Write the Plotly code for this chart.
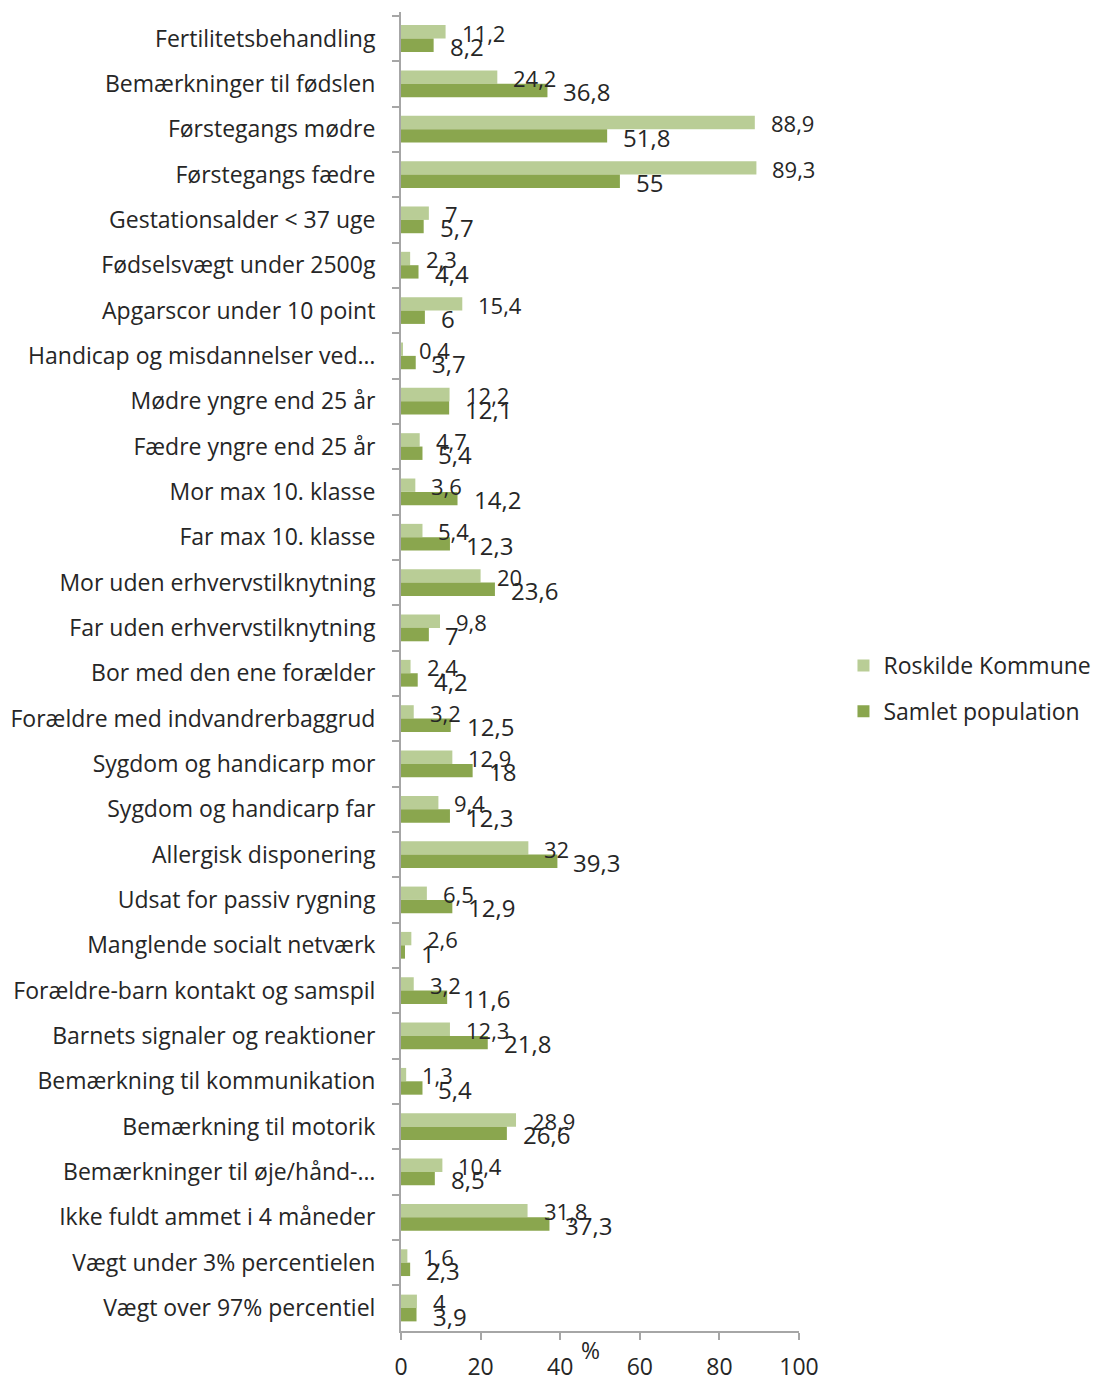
import plotly.graph_objects as go

categories = [
    "Fertilitetsbehandling",
    "Bemærkninger til fødslen",
    "Førstegangs mødre",
    "Førstegangs fædre",
    "Gestationsalder < 37 uge",
    "Fødselsvægt under 2500g",
    "Apgarscor under 10 point",
    "Handicap og misdannelser ved…",
    "Mødre yngre end 25 år",
    "Fædre yngre end 25 år",
    "Mor max 10. klasse",
    "Far max 10. klasse",
    "Mor uden erhvervstilknytning",
    "Far uden erhvervstilknytning",
    "Bor med den ene forælder",
    "Forældre med indvandrerbaggrud",
    "Sygdom og handicarp mor",
    "Sygdom og handicarp far",
    "Allergisk disponering",
    "Udsat for passiv rygning",
    "Manglende socialt netværk",
    "Forældre-barn kontakt og samspil",
    "Barnets signaler og reaktioner",
    "Bemærkning til kommunikation",
    "Bemærkning til motorik",
    "Bemærkninger til øje/hånd-…",
    "Ikke fuldt ammet i 4 måneder",
    "Vægt under 3% percentielen",
    "Vægt over 97% percentiel",
]

roskilde = [11.2, 24.2, 88.9, 89.3, 7, 2.3, 15.4, 0.4, 12.2, 4.7, 3.6, 5.4, 20, 9.8,
            2.4, 3.2, 12.9, 9.4, 32, 6.5, 2.6, 3.2, 12.3, 1.3, 28.9, 10.4, 31.8, 1.6, 4]
samlet = [8.2, 36.8, 51.8, 55, 5.7, 4.4, 6, 3.7, 12.1, 5.4, 14.2, 12.3, 23.6, 7,
          4.2, 12.5, 18, 12.3, 39.3, 12.9, 1, 11.6, 21.8, 5.4, 26.6, 8.5, 37.3, 2.3, 3.9]

x_ticks = [0, 20, 40, 60, 80, 100]

FONT = "Open Sans"
TEXT = "#262626"
AXIS = "#A6A6A6"
LIGHT = "#B9CD96"
DARK = "#8AA64E"


def fmt(v):
    return f"{v:g}".replace(".", ",")


fig = go.Figure()
fig.add_trace(go.Bar(
    y=categories, x=roskilde, orientation="h", name="Roskilde Kommune",
    marker=dict(color=LIGHT, line=dict(width=0)), legendgroup="a",
))
fig.add_trace(go.Bar(
    y=categories, x=samlet, orientation="h", name="Samlet population",
    marker=dict(color=DARK, line=dict(width=0)), legendgroup="b",
))

# value labels just past the end of each bar
annotations = []
for cat, v in zip(categories, roskilde):
    annotations.append(dict(
        x=v, y=cat, xref="x", yref="y", text=fmt(v), showarrow=False,
        xanchor="left", yanchor="middle", xshift=14, yshift=6,
        font=dict(family=FONT, size=22, color=TEXT),
    ))
for cat, v in zip(categories, samlet):
    annotations.append(dict(
        x=v, y=cat, xref="x", yref="y", text=fmt(v), showarrow=False,
        xanchor="left", yanchor="middle", xshift=14, yshift=-8,
        font=dict(family=FONT, size=24, color=TEXT),
    ))
annotations.append(dict(
    x=47.5, y=0, xref="x", yref="paper", text="%", showarrow=False,
    xanchor="center", yanchor="middle", yshift=-19,
    font=dict(family=FONT, size=23, color=TEXT),
))

fig.update_layout(
    width=1094, height=1377,
    margin=dict(l=401, r=295, t=12, b=46, autoexpand=False),
    paper_bgcolor="white", plot_bgcolor="white",
    barmode="group", bargap=0.41, bargroupgap=0,
    font=dict(family=FONT, size=22, color=TEXT),
    annotations=annotations,
    legend=dict(
        xref="container", yref="container", x=0.771, y=0.5,
        xanchor="left", yanchor="middle",
        traceorder="grouped", tracegroupgap=13,
        font=dict(family=FONT, size=23, color=TEXT),
        itemwidth=30,
    ),
    xaxis=dict(
        range=[0, 100], tickvals=x_ticks, ticktext=[str(t) for t in x_ticks],
        showgrid=False, zeroline=False, automargin=False,
        showline=True, linecolor=AXIS, linewidth=2,
        ticks="outside", ticklen=7, tickcolor=AXIS, tickwidth=2,
        ticklabelstandoff=7,
        tickfont=dict(family=FONT, size=23, color=TEXT),
        fixedrange=True,
    ),
    yaxis=dict(
        autorange="reversed", showgrid=False, zeroline=False, automargin=False,
        showline=True, linecolor=AXIS, linewidth=2,
        ticks="outside", ticklen=7, tickcolor=AXIS, tickwidth=2,
        tickson="boundaries", ticklabelstandoff=19,
        tickfont=dict(family=FONT, size=23, color=TEXT),
        fixedrange=True,
    ),
)

fig.write_html("out.html")
